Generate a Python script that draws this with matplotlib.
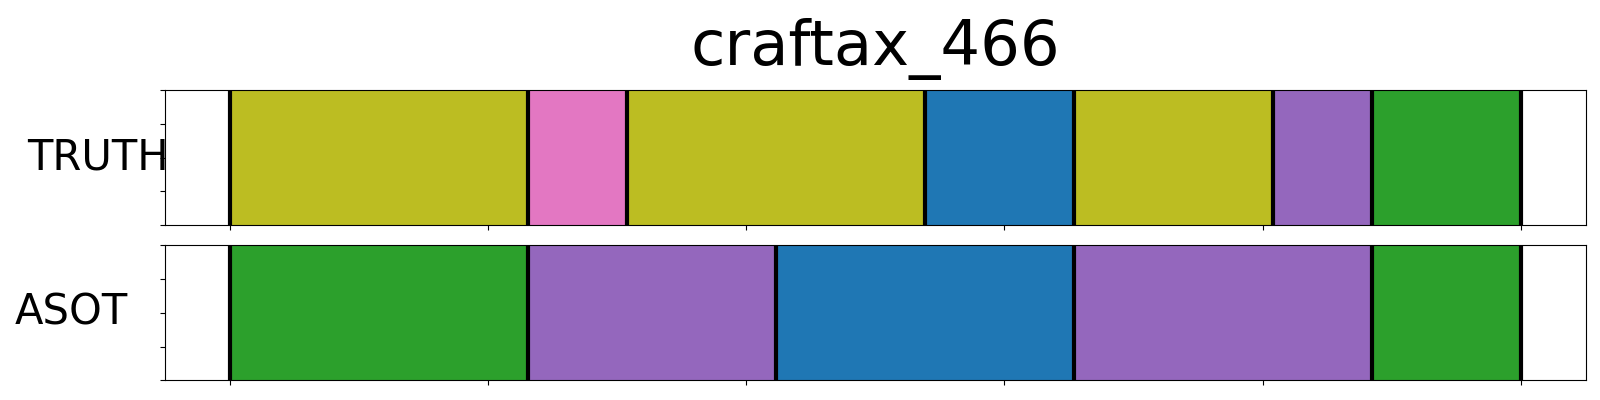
import matplotlib
matplotlib.use("Agg")
import matplotlib.pyplot as plt
import numpy as np

title = "craftax_466"
total_frames = 26
row_names = ["TRUTH", "ASOT"]

truth_starts = [0, 6, 8, 14, 17, 21, 23]
truth_ends = [6, 8, 14, 17, 21, 23, 26]
truth_colors = ["tab:olive", "tab:pink", "tab:olive", "tab:blue", "tab:olive", "tab:purple", "tab:green"]

asot_starts = [0, 6, 11, 17, 23]
asot_ends = [6, 11, 17, 23, 26]
asot_colors = ["tab:green", "tab:purple", "tab:blue", "tab:purple", "tab:green"]

rows = [
    (truth_starts, truth_ends, truth_colors),
    (asot_starts, asot_ends, asot_colors),
]

fig = plt.figure(figsize=(16, 4), dpi=100)
ax_rects = [
    [0.1031, 0.4375, 0.8879, 0.3375],
    [0.1031, 0.049, 0.8879, 0.3385],
]
label_x = [-0.0475, -0.0662]

for i, ((starts, ends, colors), name) in enumerate(zip(rows, row_names)):
    ax = fig.add_axes(ax_rects[i])
    for s, e, c in zip(starts, ends, colors):
        ax.axvspan(s, e, ymin=0, ymax=1, facecolor=c, edgecolor=c, linewidth=0.8, zorder=1)
    bounds = sorted(set(starts) | set(ends))
    for b in bounds:
        ax.axvline(b, color="black", linewidth=3, zorder=3)
    ax.set_xlim(-0.05 * total_frames, 1.05 * total_frames)
    ax.set_ylim(0, 1)
    ax.set_xticks(np.linspace(0, total_frames, 6))
    ax.set_xticklabels([])
    ax.set_yticks([0, 0.25, 0.5, 0.75, 1.0])
    ax.set_yticklabels([])
    ax.set_ylabel(name, rotation=0, fontsize=30, ha="center", va="center")
    ax.yaxis.set_label_coords(label_x[i], 0.5)
    if i == 0:
        ax.set_title(title, fontsize=45, pad=18)

fig.savefig("out.png", dpi=100)
